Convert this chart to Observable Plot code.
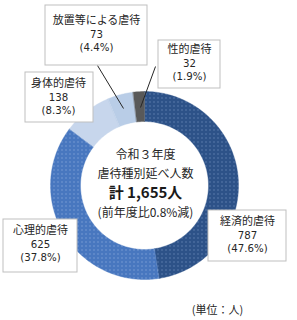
<!DOCTYPE html>
<html>
<head>
<meta charset="utf-8">
<script src="https://cdn.jsdelivr.net/npm/d3@7"></script>
<script src="https://cdn.jsdelivr.net/npm/@observablehq/plot@0.6"></script>
<style>
  html, body { margin: 0; padding: 0; background: #ffffff; }
  #chart svg { display: block; }
</style>
</head>
<body>
<div id="chart"></div>
<script>
// ---- data ----
const categories = ["経済的虐待", "心理的虐待", "身体的虐待", "放置等による虐待", "性的虐待"];
const counts = [787, 625, 138, 73, 32];
const percents = ["47.6%", "37.8%", "8.3%", "4.4%", "1.9%"];
const centerTitle = ["令和３年度", "虐待種別延べ人数"];
const changeText = "(前年度比0.8%減)";
const unitText = "(単位：人)";

// ---- styles (not data) ----
const sliceFills = ["url(#p-navy)", "url(#p-mid)", "url(#p-check)", "#b9cde7", "#595959"];
const R = 94, r = 64;
const lineGap = 13.6;
// label layout: box (x1,x2,y1,y2) and text centre, in px relative to ring centre
const labelLayout = [
  {box: [64, 142, 25, 76], tx: 103, ty: 50},
  {box: [-141, -67, 34, 87], tx: -104, ty: 59},
  {box: [-119, -51, -113, -63], tx: -86, ty: -88},
  {box: [-99, 3, -180, -120], tx: -48, ty: -151},
  {box: [14, 76, -145, -97], tx: 45, ty: -122}
];
const leaderLayout = [
  {i: 3, x1: -47, y1: -120, x2: -21, y2: -77},
  {i: 4, x1: 11, y1: -119, x2: -4, y2: -78}
];

// ---- geometry from data ----
const total = d3.sum(counts);
const cum = d3.cumsum(counts);
const ringPts = [];
categories.forEach((c, i) => {
  const a0 = ((cum[i] - counts[i]) / total) * 2 * Math.PI;
  const a1 = (cum[i] / total) * 2 * Math.PI;
  const n = Math.max(2, Math.ceil((a1 - a0) / (Math.PI / 180)));
  for (let k = 0; k <= n; k++) {
    const a = a0 + (a1 - a0) * k / n;
    ringPts.push({cat: c, fill: sliceFills[i], x: R * Math.sin(a), y: -R * Math.cos(a)});
  }
  for (let k = n; k >= 0; k--) {
    const a = a0 + (a1 - a0) * k / n;
    ringPts.push({cat: c, fill: sliceFills[i], x: r * Math.sin(a), y: -r * Math.cos(a)});
  }
});

const labels = categories.map((c, i) => ({
  cat: c, num: String(counts[i]), pct: `(${percents[i]})`,
  x1: labelLayout[i].box[0], x2: labelLayout[i].box[1],
  y1: labelLayout[i].box[2], y2: labelLayout[i].box[3],
  tx: labelLayout[i].tx, ty: labelLayout[i].ty
}));

const jp = "'Noto Sans CJK JP', 'Noto Sans', sans-serif";
const latin = "'DejaVu Sans', 'Noto Sans', sans-serif";

const chart = Plot.plot({
  width: 297,
  height: 320,
  margin: 0,
  style: {fontFamily: jp, background: "#ffffff"},
  x: {domain: [-144, 153], range: [0, 297], axis: null},
  y: {domain: [-185, 135], range: [0, 320], axis: null},
  color: {type: "identity"},
  marks: [
    Plot.line(ringPts, {x: "x", y: "y", z: "cat", fill: "fill", stroke: "fill", strokeWidth: 0.4, curve: "linear-closed"}),
    Plot.link(leaderLayout, {x1: "x1", y1: "y1", x2: "x2", y2: "y2", stroke: "#262626", strokeWidth: 1}),
    Plot.rect(labels, {x1: "x1", x2: "x2", y1: "y1", y2: "y2", fill: "white", stroke: "#bfbfbf", strokeWidth: 1}),
    Plot.text(labels, {x: "tx", y: d => d.ty - lineGap, text: "cat", fontSize: 11, fill: "#262626"}),
    Plot.text(labels, {x: "tx", y: "ty", text: "num", fontSize: 10.2, fontFamily: latin, fill: "#262626"}),
    Plot.text(labels, {x: "tx", y: d => d.ty + lineGap, text: "pct", fontSize: 10.2, fontFamily: latin, fill: "#262626"}),
    Plot.text([centerTitle[0]], {x: 1, y: -30, text: d => d, fontSize: 12, fill: "#262626"}),
    Plot.text([centerTitle[1]], {x: 1, y: -11, text: d => d, fontSize: 12, fill: "#262626"}),
    Plot.text([`計 ${d3.format(",")(total)}人`], {x: 1, y: 8, text: d => d, fontSize: 15, fontWeight: "bold", fill: "#1a1a1a"}),
    Plot.text([changeText], {x: 1, y: 28, text: d => d, fontSize: 12, fill: "#262626"}),
    Plot.text([unitText], {x: 73, y: 125, text: d => d, fontSize: 11, fill: "#262626"})
  ]
});

// patterns
const defs = d3.select(chart).insert("defs", ":first-child");
const navy = defs.append("pattern").attr("id", "p-navy").attr("patternUnits", "userSpaceOnUse").attr("width", 4).attr("height", 4);
navy.append("rect").attr("width", 4).attr("height", 4).attr("fill", "#2d5288");
navy.append("rect").attr("x", 1).attr("y", 1).attr("width", 1).attr("height", 1).attr("fill", "#7f9dca");
const mid = defs.append("pattern").attr("id", "p-mid").attr("patternUnits", "userSpaceOnUse").attr("width", 4).attr("height", 4);
mid.append("rect").attr("width", 4).attr("height", 4).attr("fill", "#4877bf");
mid.append("rect").attr("x", 1).attr("y", 1).attr("width", 1).attr("height", 1).attr("fill", "#9db8e2");
const chk = defs.append("pattern").attr("id", "p-check").attr("patternUnits", "userSpaceOnUse").attr("width", 2).attr("height", 2);
chk.append("rect").attr("width", 2).attr("height", 2).attr("fill", "#e6edf7");
chk.append("rect").attr("x", 0).attr("y", 0).attr("width", 1).attr("height", 1).attr("fill", "#a8bfe0");
chk.append("rect").attr("x", 1).attr("y", 1).attr("width", 1).attr("height", 1).attr("fill", "#a8bfe0");

document.getElementById("chart").append(chart);
</script>
</body>
</html>
